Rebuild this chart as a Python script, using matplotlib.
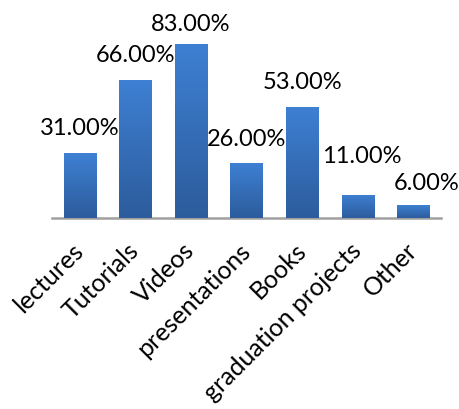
import numpy as np
import matplotlib
matplotlib.use("Agg")
import matplotlib.pyplot as plt
from matplotlib.transforms import ScaledTranslation

# data
categories = ["lectures", "Tutorials", "Videos", "presentations", "Books",
              "graduation projects", "Other"]
values = [0.31, 0.66, 0.83, 0.26, 0.53, 0.11, 0.06]

plt.rcParams['font.family'] = ['Lato', 'DejaVu Sans']

fig = plt.figure(figsize=(4.6, 4.09), dpi=100)
ax = fig.add_axes([52/460, 191/409, 389/460, 188.7/409])

x = np.arange(len(categories))
bars = ax.bar(x, values, width=0.58, color='#3570c0', zorder=2)

# vertical gradient on each bar
grad = np.linspace(0, 1, 256).reshape(-1, 1)
cmap = matplotlib.colors.LinearSegmentedColormap.from_list('g', ['#2c5c9c', '#3e80d3'])
for b in bars:
    x0, y0 = b.get_x(), b.get_y()
    w, h = b.get_width(), b.get_height()
    im = ax.imshow(grad, extent=[x0, x0 + w, y0, y0 + h], origin='lower',
                   cmap=cmap, aspect='auto', zorder=3)
    im.set_clip_path(b)

# label offsets in pixels (excel nudged a few to avoid overlaps)
dx = [0, 0, 0, 0, 0, 4, 13]
dy = [18, 18, 13, 17, 18, 32, 15]
for i, v in enumerate(values):
    ax.annotate(f"{v*100:.2f}%", (x[i], v), xytext=(dx[i], dy[i]),
                textcoords='offset pixels', ha='center', va='baseline',
                fontsize=17, annotation_clip=False)

ax.set_xlim(-0.5, len(categories) - 0.5)
ax.set_ylim(0, 0.9)
ax.set_yticks([])
for s in ['top', 'right', 'left']:
    ax.spines[s].set_visible(False)
ax.spines['bottom'].set_color('#a0a0a0')
ax.spines['bottom'].set_linewidth(1.8)
ax.set_xticks(x)
ax.set_xticklabels(categories, rotation=45, ha='right', rotation_mode='anchor', fontsize=18)
ax.tick_params(axis='x', length=0, pad=15)
shift = ScaledTranslation(-8/100, 0, fig.dpi_scale_trans)
for lab in ax.get_xticklabels():
    lab.set_transform(lab.get_transform() + shift)

fig.savefig("out.png", dpi=100)
